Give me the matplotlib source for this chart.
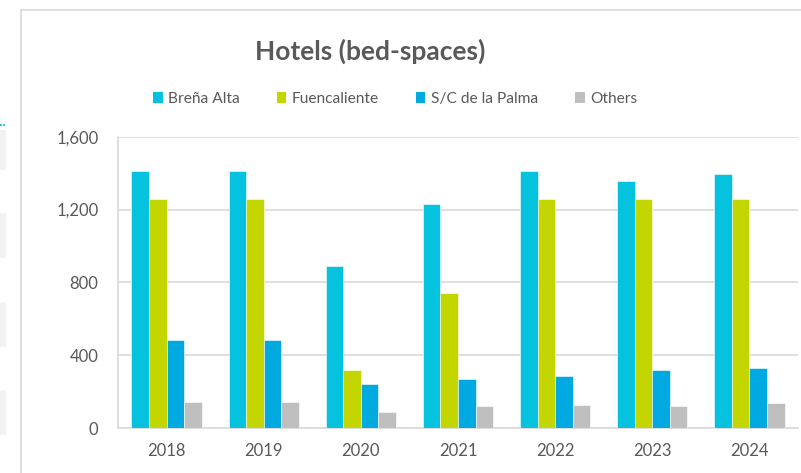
import matplotlib
matplotlib.use("Agg")
import matplotlib.pyplot as plt
import numpy as np
from matplotlib.patches import Patch, Rectangle
from matplotlib.lines import Line2D

# data
years = ["2018", "2019", "2020", "2021", "2022", "2023", "2024"]
brena_alta = [1411, 1411, 889, 1228, 1411, 1358, 1395]
fuencaliente = [1259, 1259, 317, 739, 1259, 1259, 1259]
sc_palma = [486, 486, 244, 271, 284, 317, 328]
others = [143, 143, 86, 119, 125, 121, 137]

series_names = ["Breña Alta", "Fuencaliente", "S/C de la Palma", "Others"]
colors = ["#05C3DE", "#C4D600", "#00A9E0", "#BFBFBF"]
text_color = "#595959"
grid_color = "#D9D9D9"

plt.rcParams["font.family"] = ["Lato", "DejaVu Sans"]

W, H = 801, 473
fig = plt.figure(figsize=(W / 100, H / 100), dpi=100)

# outer chart frame (top and left edges visible)
fig.add_artist(Line2D([21 / W, 1], [1 - 10 / H, 1 - 10 / H], color=grid_color, lw=1.2))
fig.add_artist(Line2D([21 / W, 21 / W], [0, 1 - 10 / H], color=grid_color, lw=1.2))

# stray bits of the neighbouring panel on the left
for y0, y1 in [(130, 170), (213, 258), (303, 347), (391, 435)]:
    fig.add_artist(Rectangle((0, 1 - y1 / H), 6 / W, (y1 - y0) / H,
                             facecolor="#F2F2F2", edgecolor="none"))
fig.add_artist(Line2D([0, 6 / W], [1 - 125 / H, 1 - 125 / H], color="#00A9E0",
                      lw=1.2, linestyle=(0, (1, 1))))

ax = fig.add_axes([118 / W, 45 / H, (798 - 118) / W, (428 - 136.7) / H])

x = np.arange(len(years))
bw = 0.181
all_series = [brena_alta, fuencaliente, sc_palma, others]
for i, (vals, c) in enumerate(zip(all_series, colors)):
    ax.bar(x + (i - 1.5) * bw, vals, width=bw, color=c, edgecolor="white",
           linewidth=0.4, zorder=3)

ax.set_xlim(-0.5, len(years) - 0.5)
ax.set_ylim(0, 1600)
ax.set_yticks([0, 400, 800, 1200, 1600])
ax.set_yticklabels(["0", "400", "800", "1,200", "1,600"])
ax.set_xticks(x)
ax.set_xticklabels(years)
ax.tick_params(axis="both", length=0, labelsize=12, colors=text_color)
ax.tick_params(axis="y", pad=14)
ax.tick_params(axis="x", pad=11)
ax.yaxis.grid(True, color=grid_color, linewidth=1.2, zorder=0)
for s in ["top", "right"]:
    ax.spines[s].set_visible(False)
ax.spines["left"].set_color(grid_color)
ax.spines["bottom"].set_color(grid_color)
ax.spines["left"].set_linewidth(1.2)
ax.spines["bottom"].set_linewidth(1.2)

fig.text(370 / W, 1 - 51 / H, "Hotels (bed-spaces)", ha="center", va="center",
         fontsize=19, fontweight="bold", color=text_color)

handles = [Patch(facecolor=c, edgecolor="none") for c in colors]
leg = fig.legend(handles, series_names, loc="center left",
                 bbox_to_anchor=(153 / W, 1 - 99 / H), ncol=4, frameon=False,
                 fontsize=11.2, handlelength=0.62, handleheight=0.62,
                 handletextpad=0.35, columnspacing=2.37, borderaxespad=0,
                 borderpad=0)
for t in leg.get_texts():
    t.set_color(text_color)

fig.savefig("out.png", dpi=100)
